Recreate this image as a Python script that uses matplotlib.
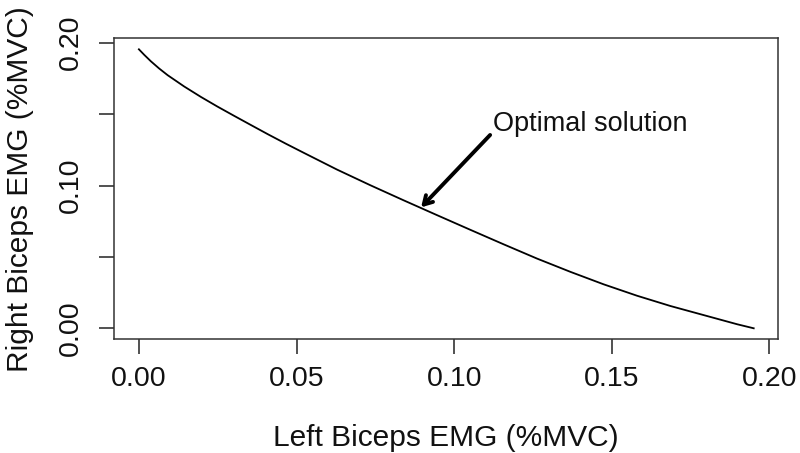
import matplotlib
matplotlib.use("Agg")
import matplotlib.pyplot as plt

plt.rcParams['font.family'] = ['Liberation Sans', 'DejaVu Sans']

# Curve values
left_emg = [0.0, 0.0017, 0.0038, 0.0064, 0.0091, 0.0144, 0.0197, 0.0249, 0.0302,
            0.0355, 0.0410, 0.0466, 0.0522, 0.0628, 0.0734, 0.0839, 0.0945, 0.1051,
            0.1157, 0.1263, 0.1369, 0.1474, 0.1580, 0.1686, 0.1792, 0.1898, 0.1950]
right_emg = [0.1954, 0.1915, 0.1870, 0.1820, 0.1773, 0.1693, 0.1620, 0.1553, 0.1488,
             0.1424, 0.1358, 0.1293, 0.1230, 0.1112, 0.1002, 0.0897, 0.0793, 0.0690,
             0.0588, 0.0488, 0.0395, 0.0308, 0.0228, 0.0156, 0.0092, 0.0028, 0.0]

x_ticks = [0.00, 0.05, 0.10, 0.15, 0.20]
x_tick_labels = ["0.00", "0.05", "0.10", "0.15", "0.20"]
y_ticks = [0.00, 0.05, 0.10, 0.15, 0.20]
y_tick_labels = ["0.00", "", "0.10", "", "0.20"]

annot_text = "Optimal solution"
annot_xy = (0.0895, 0.0847)
annot_text_xy = (0.1114, 0.1354)
label_pos = (0.1124, 0.1430)

fig = plt.figure(figsize=(8.0, 4.53), dpi=100)
ax = fig.add_axes([114.3 / 800, (453 - 339) / 453, 664 / 800, 300.7 / 453])

ax.plot(left_emg, right_emg, color='black', lw=1.3, solid_joinstyle='round')

ax.set_xlim(-0.0078, 0.2028)
ax.set_ylim(-0.0075, 0.2031)

ax.set_xticks(x_ticks)
ax.set_xticklabels(x_tick_labels)
ax.set_yticks(y_ticks)
ax.set_yticklabels(y_tick_labels, rotation=90, va='center')

ax.tick_params(axis='both', direction='out', length=10.8, width=1.1, color='#222222',
               labelsize=20.5, labelcolor='#111111')
ax.tick_params(axis='x', pad=9)
ax.tick_params(axis='y', pad=11)

for s in ax.spines.values():
    s.set_linewidth(1.1)
    s.set_color('#333333')

ax.set_xlabel("Left Biceps EMG (%MVC)", fontsize=21.5, color='#111111', labelpad=23)
ax.set_ylabel("Right Biceps EMG (%MVC)", fontsize=21.5, color='#111111', labelpad=17)

ax.annotate("", xy=annot_xy, xytext=annot_text_xy,
            arrowprops=dict(arrowstyle='->,head_length=0.6,head_width=0.35',
                            lw=2.8, color='black', shrinkA=0, shrinkB=0))
ax.text(label_pos[0], label_pos[1], annot_text, fontsize=19.5, color='#111111',
        ha='left', va='center')

fig.savefig("out.png", dpi=100)
